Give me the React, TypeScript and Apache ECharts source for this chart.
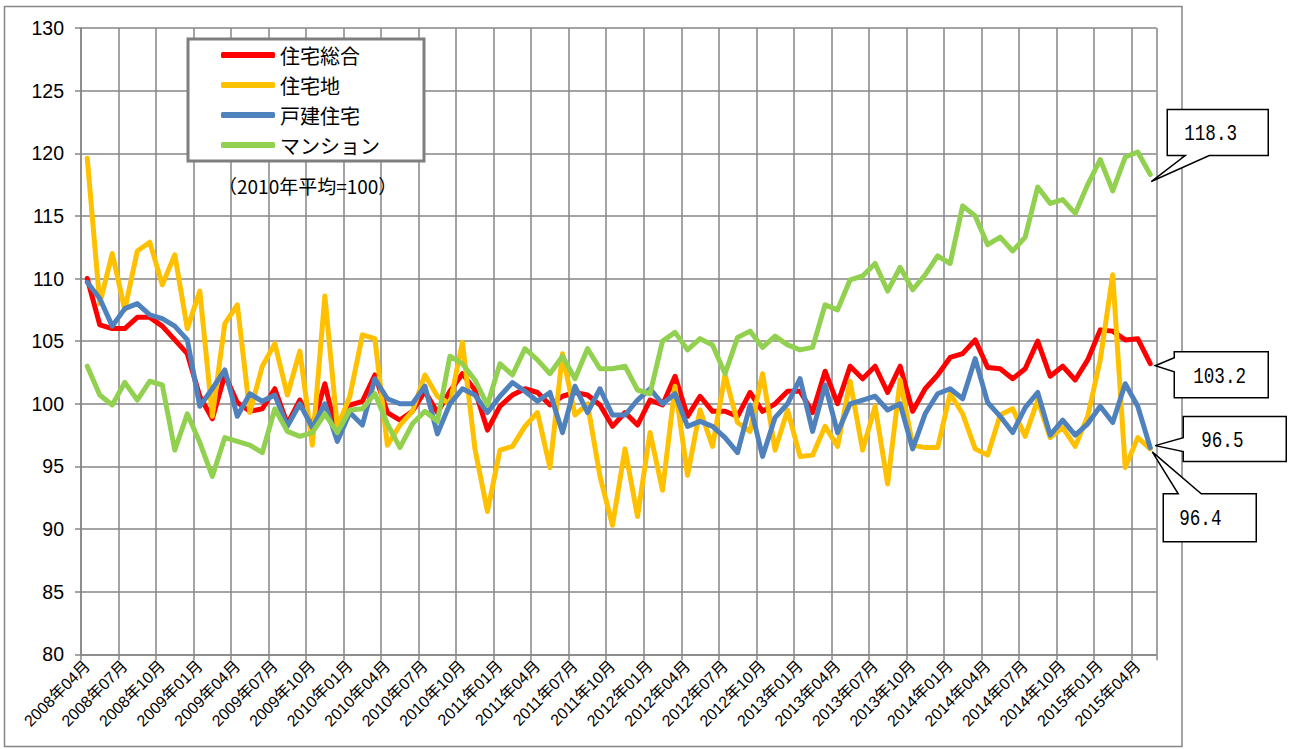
import React, { useEffect, useRef } from "react";
import * as echarts from "echarts";

// ---- data ----
const categories: string[] = [];
for (let i = 0; i < 86; i++) {
  const m = 3 + i;
  categories.push(`${2008 + Math.floor(m / 12)}年${String((m % 12) + 1).padStart(2, "0")}月`);
}

const seriesNames = ["住宅総合", "住宅地", "戸建住宅", "マンション"];
const seriesColors = ["#FF0000", "#FFC000", "#4F81BD", "#92D050"];

const sogo = [
  110.0, 106.3, 106.0, 106.0, 106.9, 106.9, 106.2, 105.1, 104.0, 100.6,
  98.8, 102.3, 100.1, 99.4, 99.6, 101.2, 98.4, 100.3, 98.2, 101.6,
  97.4, 99.9, 100.2, 102.3, 99.3, 98.7, 99.4, 101.0, 99.3, 101.0,
  102.4, 101.1, 97.9, 99.8, 100.7, 101.2, 100.9, 99.9, 100.6, 100.9,
  100.7, 99.9, 98.2, 99.3, 98.3, 100.3, 99.9, 102.2, 99.0, 100.6,
  99.4, 99.4, 99.0, 100.9, 99.4, 100.0, 101.0, 101.0, 99.3, 102.6,
  100.0, 103.0, 102.0, 103.0, 100.9, 103.0, 99.4, 101.2, 102.3, 103.7,
  104.0, 105.1, 102.9, 102.8, 102.0, 102.8, 105.0, 102.2, 103.0, 101.9,
  103.5, 105.9, 105.8, 105.1, 105.2, 103.2,
];

const takuchi = [
  119.6, 108.0, 112.0, 107.5, 112.2, 112.9, 109.5, 111.9, 106.0, 109.0,
  99.0, 106.4, 107.9, 99.3, 103.0, 104.8, 100.7, 104.2, 96.7, 108.6,
  98.1, 100.6, 105.5, 105.2, 96.7, 98.3, 99.4, 102.3, 100.6, 100.0,
  104.9, 96.4, 91.4, 96.3, 96.6, 98.2, 99.3, 94.9, 104.0, 99.1,
  100.0, 94.2, 90.3, 96.4, 91.0, 97.7, 93.1, 101.4, 94.3, 99.5,
  96.6, 102.3, 98.5, 97.8, 102.4, 96.3, 99.5, 95.8, 95.9, 98.2,
  96.6, 101.8, 96.3, 99.8, 93.6, 101.9, 96.7, 96.5, 96.5, 100.8,
  99.2, 96.4, 95.9, 99.1, 99.6, 97.4, 100.3, 97.3, 98.1, 96.6,
  99.0, 103.5, 110.3, 94.9, 97.3, 96.4,
];

const kodate = [
  109.7, 108.4, 106.2, 107.6, 108.0, 107.1, 106.8, 106.2, 105.1, 99.8,
  101.2, 102.7, 99.0, 100.8, 100.2, 100.7, 98.2, 100.0, 98.1, 100.0,
  97.0, 99.3, 98.3, 102.0, 100.4, 100.0, 100.0, 101.4, 97.6, 100.0,
  101.2, 100.7, 99.3, 100.6, 101.7, 101.0, 100.2, 100.9, 97.7, 101.4,
  99.3, 101.2, 99.1, 99.1, 100.3, 101.2, 100.0, 100.8, 98.2, 98.6,
  98.2, 97.3, 96.1, 99.9, 95.8, 98.9, 100.0, 102.0, 97.8, 101.5,
  97.7, 100.0, 100.3, 100.6, 99.5, 100.0, 96.4, 99.2, 100.8, 101.2,
  100.4, 103.6, 100.1, 99.0, 97.7, 99.7, 100.9, 97.5, 98.7, 97.5,
  98.4, 99.8, 98.5, 101.6, 99.8, 96.5,
];

const mansion = [
  103.0, 100.7, 99.9, 101.7, 100.3, 101.8, 101.5, 96.3, 99.2, 96.9,
  94.2, 97.3, 97.0, 96.7, 96.1, 99.6, 97.8, 97.4, 97.7, 99.2,
  97.7, 99.5, 99.6, 100.8, 98.4, 96.5, 98.4, 99.4, 98.6, 103.8,
  103.2, 101.9, 99.9, 103.2, 102.3, 104.4, 103.5, 102.4, 103.8, 102.0,
  104.4, 102.8, 102.8, 103.0, 101.1, 100.8, 105.0, 105.7, 104.3, 105.2,
  104.7, 102.4, 105.3, 105.8, 104.5, 105.4, 104.7, 104.3, 104.5, 107.9,
  107.5, 109.9, 110.2, 111.2, 109.0, 110.9, 109.1, 110.3, 111.8, 111.2,
  115.8, 115.0, 112.7, 113.3, 112.2, 113.3, 117.3, 116.0, 116.3, 115.2,
  117.5, 119.5, 117.0, 119.7, 120.1, 118.3,
];

const allSeries = [sogo, takuchi, kodate, mansion];
const subtitle = "（2010年平均=100）";
const yMin = 80;
const yMax = 130;
const yInterval = 5;

const GRID = "#868686";
const LATIN = '"Liberation Sans", "Noto Sans CJK JP", sans-serif';
const CJK = '"Noto Sans CJK JP", sans-serif';
const MONO = '"Liberation Mono", "DejaVu Sans Mono", monospace';

// callout geometry relative to the data point (pixels)
const callouts = [
  { s: 3, poly: [[17, -65], [118, -65], [118, -19], [59, -19], [1, 7], [35, -19], [17, -19]], tx: 34, ty: -41 },
  { s: 0, poly: [[24, -12], [118, -12], [118, 34], [24, 34], [24, 8], [5, 2], [24, -6]], tx: 43, ty: 13 },
  { s: 2, poly: [[33, -31], [136, -31], [136, 14], [33, 14], [33, 4], [5, -2], [33, -10]], tx: 51, ty: -7 },
  { s: 1, poly: [[13, 45], [28, 45], [2, 3], [51, 45], [106, 45], [106, 93], [13, 93]], tx: 29, ty: 70 },
];

export default function App() {
  const ref = useRef<HTMLDivElement>(null);
  useEffect(() => {
    document.body.style.margin = "0";
    const chart = echarts.init(ref.current!, null, { renderer: "svg" });
    const option: any = {
      animation: false,
      backgroundColor: "#ffffff",
      grid: { left: 81, top: 28, right: 144.5, bottom: 94.7, outerBoundsMode: "none" },
      xAxis: {
        type: "category",
        data: categories,
        boundaryGap: true,
        axisLine: { lineStyle: { color: GRID, width: 1.5 } },
        axisTick: { show: true, interval: 2, length: 6, lineStyle: { color: GRID, width: 1.5 } },
        axisLabel: { interval: 2, rotate: 45, fontSize: 16, color: "#000", margin: 9, fontFamily: LATIN },
        splitLine: { show: true, interval: 2, lineStyle: { color: GRID, width: 1.5 } },
      },
      yAxis: {
        type: "value",
        min: yMin,
        max: yMax,
        interval: yInterval,
        axisLine: { show: true, lineStyle: { color: GRID, width: 1.5 } },
        axisTick: { show: true, length: 6, lineStyle: { color: GRID, width: 1.5 } },
        axisLabel: { fontSize: 19.5, color: "#000", margin: 17, fontFamily: LATIN },
        splitLine: { show: true, lineStyle: { color: GRID, width: 1.5 } },
      },
      legend: {
        data: seriesNames,
        orient: "vertical",
        left: 188,
        top: 39,
        padding: [5, 44, 5, 33],
        itemGap: 8,
        itemWidth: 54,
        itemHeight: 6,
        icon: "roundRect",
        borderColor: "#7f7f7f",
        borderWidth: 3,
        backgroundColor: "#fff",
        textStyle: { fontSize: 20, lineHeight: 22, color: "#000", fontFamily: CJK },
      },
      series: seriesNames.map((name, i) => ({
        name,
        type: "line",
        data: allSeries[i],
        symbol: "none",
        color: seriesColors[i],
        lineStyle: { width: 5, color: seriesColors[i], join: "round", cap: "round" },
      })),
    };
    chart.setOption(option);

    const graphics: any[] = [
      {
        type: "rect",
        silent: true,
        z: 0,
        shape: { x: 4.5, y: 6.5, width: 1177.5, height: 740 },
        style: { fill: "none", stroke: GRID, lineWidth: 1.5 },
      },
      {
        type: "text",
        x: 218,
        y: 185,
        z: 10,
        style: { text: subtitle, fontSize: 19, fontFamily: CJK, fill: "#000", verticalAlign: "middle", align: "left" },
      },
    ];
    callouts.forEach((c) => {
      const arr = allSeries[c.s];
      const last = arr.length - 1;
      const p = chart.convertToPixel({ xAxisIndex: 0, yAxisIndex: 0 }, [last, arr[last]]) as number[];
      graphics.push({
        type: "polygon",
        z: 20,
        shape: { points: c.poly.map(([dx, dy]) => [p[0] + dx, p[1] + dy]) },
        style: { fill: "#fff", stroke: "#000", lineWidth: 1.5 },
      });
      graphics.push({
        type: "text",
        z: 21,
        x: p[0] + c.tx,
        y: p[1] + c.ty,
        scaleX: 0.8,
        style: { text: arr[last].toFixed(1), fontSize: 22, fontFamily: MONO, fill: "#000", verticalAlign: "middle", align: "left" },
      });
    });
    chart.setOption({ graphic: graphics });

    return () => chart.dispose();
  }, []);
  return <div ref={ref} style={{ width: 1301, height: 749 }} />;
}
